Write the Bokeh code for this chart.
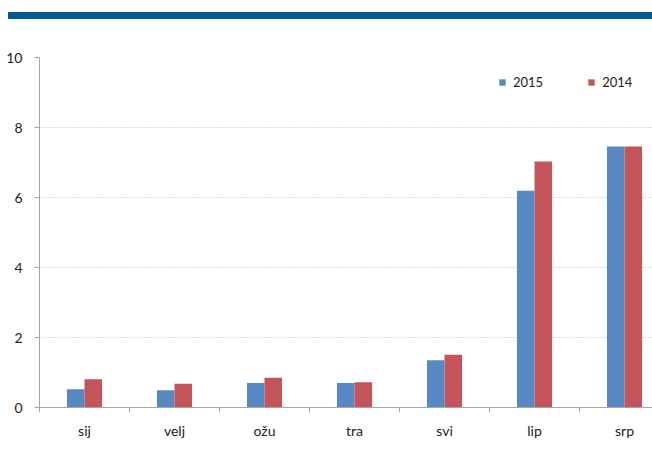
import numpy as np
from bokeh.plotting import figure
from bokeh.models import (ColumnDataSource, Range1d, FixedTicker, Legend, LegendItem, Div)
from bokeh.layouts import column
from bokeh.embed import file_html
from bokeh.resources import INLINE

months = ["sij", "velj", "ožu", "tra", "svi", "lip", "srp"]
v2015 = [0.52, 0.49, 0.70, 0.70, 1.35, 6.19, 7.46]
v2014 = [0.81, 0.68, 0.85, 0.72, 1.51, 7.03, 7.46]
series_names = ["2015", "2014"]
y_ticks = [0, 2, 4, 6, 8, 10]

BLUE = "#5888C4"
RED = "#C4535A"
BAND = "#005A96"
FONT = "Lato"

xc = np.arange(len(months)) + 0.5
bw = 0.195
src = ColumnDataSource(dict(x1=xc - bw / 2, x2=xc + bw / 2, a=v2015, b=v2014))

band = Div(text="", width=644, height=7, margin=(12, 0, 0, 8),
           styles={"background-color": BAND})

p = figure(width=652, height=430, output_backend="svg", toolbar_location=None,
           x_range=Range1d(0, 613 / 90), y_range=Range1d(0, 10),
           min_border_left=39, min_border_right=0, min_border_top=38,
           min_border_bottom=42)
p.outline_line_color = None

r1 = p.vbar(x="x1", top="a", width=bw, source=src, fill_color=BLUE, line_color=None)
r2 = p.vbar(x="x2", top="b", width=bw, source=src, fill_color=RED, line_color=None)

# y axis
p.yaxis.ticker = FixedTicker(ticks=y_ticks)
p.yaxis.bounds = (0, 10)
p.yaxis.axis_line_color = "#A6A6A6"
p.yaxis.major_tick_line_color = "#A6A6A6"
p.yaxis.major_tick_out = 5
p.yaxis.major_tick_in = 0
p.yaxis.minor_tick_line_color = None
p.yaxis.major_label_standoff = 12
p.yaxis.major_label_text_font = FONT
p.yaxis.major_label_text_font_size = "14px"
p.yaxis.major_label_text_color = "#222222"

# x axis
p.xaxis.ticker = FixedTicker(ticks=list(xc), minor_ticks=list(range(len(months) + 1)))
p.xaxis.major_label_overrides = {float(x): m for x, m in zip(xc, months)}
p.xaxis.axis_line_color = "#A6A6A6"
p.xaxis.major_tick_line_color = None
p.xaxis.major_tick_out = 0
p.xaxis.major_tick_in = 0
p.xaxis.minor_tick_line_color = "#A6A6A6"
p.xaxis.minor_tick_out = 5
p.xaxis.minor_tick_in = 0
p.xaxis.major_label_standoff = 9
p.xaxis.major_label_text_font = FONT
p.xaxis.major_label_text_font_size = "14px"
p.xaxis.major_label_text_color = "#222222"

p.xgrid.grid_line_color = None
p.ygrid.ticker = FixedTicker(ticks=y_ticks)
p.ygrid.grid_line_color = "#BFBFBF"
p.ygrid.grid_line_dash = "1 2"

legend = Legend(items=[LegendItem(label=series_names[0], renderers=[r1]),
                       LegendItem(label=series_names[1], renderers=[r2])],
                orientation="horizontal", location=(459, 317))
legend.glyph_width = 8
legend.glyph_height = 8
legend.label_standoff = 7
legend.spacing = 44
legend.padding = 0
legend.margin = 0
legend.label_height = 14
legend.border_line_color = None
legend.background_fill_alpha = 0
legend.label_text_font = FONT
legend.label_text_font_size = "13px"
legend.label_text_color = "#222222"
p.add_layout(legend, "center")

layout = column(band, p, spacing=0)
open("out.html", "w").write(file_html(layout, INLINE))
